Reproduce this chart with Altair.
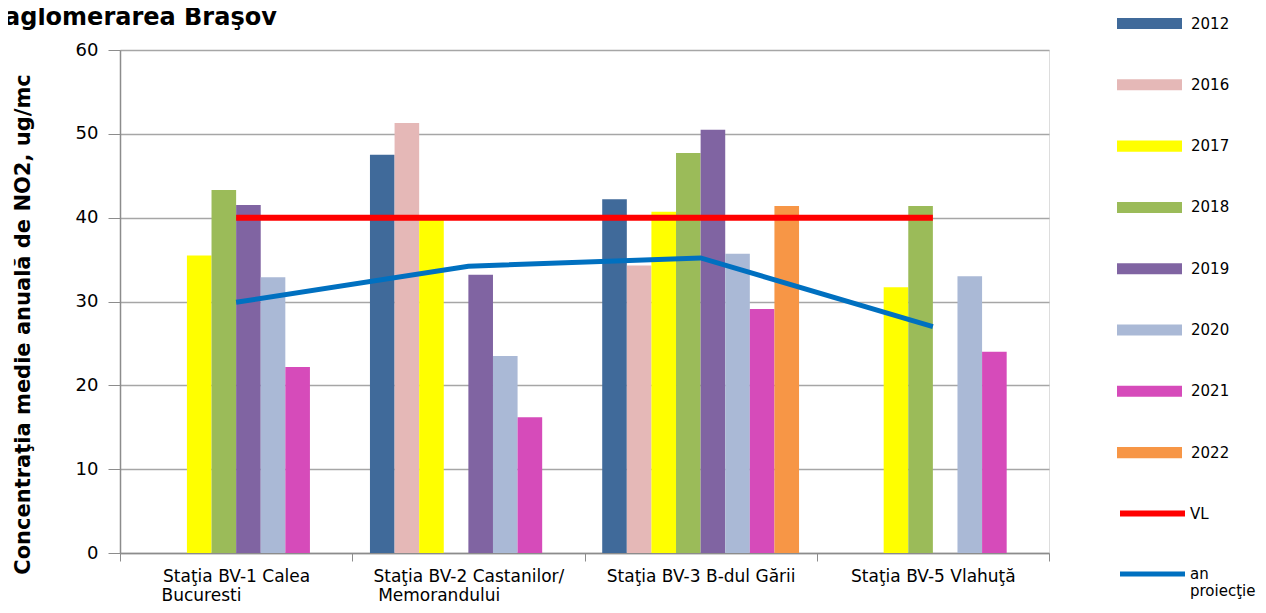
import altair as alt
import pandas as pd

# ---- data ----
chart_title = "aglomerarea Braşov"
station_line1 = ["Staţia BV-1 Calea", "Staţia BV-2 Castanilor/", "Staţia BV-3 B-dul Gării", "Staţia BV-5 Vlahuţă"]
station_line2 = ["Bucuresti", "Memorandului", "", ""]
years = ["2012", "2016", "2017", "2018", "2019", "2020", "2021", "2022"]
year_colors = ["#406A9A", "#E5B8B7", "#FFFF00", "#9BBB59", "#8064A2", "#AAB9D6", "#D64BBA", "#F79646"]

v2012 = [None, 47.5, 42.2, None]
v2016 = [None, 51.3, 34.3, None]
v2017 = [35.5, 39.8, 40.7, 31.7]
v2018 = [43.3, None, 47.7, 41.4]
v2019 = [41.5, 33.2, 50.5, None]
v2020 = [32.9, 23.5, 35.7, 33.0]
v2021 = [22.2, 16.2, 29.1, 24.0]
v2022 = [None, None, 41.4, None]

series = ["VL", "an proiecţie"]
series_colors = ["#FF0000", "#0070C0"]
vl_values = [40, 40, 40, 40]
proj_values = [29.9, 34.2, 35.2, 27.0]

# second label lines are padded with no-break spaces (closed by a zero-width space so they
# are not trimmed) so that, centred, they start under the first line as in the original
NBSP = "\u00a0"
ZWSP = "\u200b"
line2_pad = [13, 11, 0, 0]
stations = [
    (a + "\n" + b + NBSP * p + ZWSP) if b else a
    for a, b, p in zip(station_line1, station_line2, line2_pad)
]

year_values = [v2012, v2016, v2017, v2018, v2019, v2020, v2021, v2022]
bar_rows = []
for y, vals in zip(years, year_values):
    for s, v in zip(stations, vals):
        if v is not None:
            bar_rows.append({"station": s, "year": y, "value": v})
df_bars = pd.DataFrame(bar_rows)

line_rows = []
for name, vals in zip(series, [vl_values, proj_values]):
    for s, v in zip(stations, vals):
        line_rows.append({"station": s, "series": name, "value": v})
df_lines = pd.DataFrame(line_rows)

df_title = pd.DataFrame({"t": [chart_title]})

FONT = "DejaVu Sans"
GRID = "#A6A6A6"
AXC = "#8C8C8C"

x_enc = alt.X(
    "station:N", sort=stations,
    scale=alt.Scale(paddingInner=0, paddingOuter=0),
    axis=alt.Axis(
        title=None, labelAngle=0, labelFontSize=17, labelFont=FONT, labelColor="black",
        labelExpr="split(datum.label, '\\n')", labelLineHeight=19, labelLimit=0,
        tickBand="extent", tickSize=8, tickColor=AXC, domainColor=AXC, domainWidth=1.5,
        labelPadding=7, grid=False,
    ),
)

bars = alt.Chart(df_bars).mark_bar().encode(
    x=x_enc,
    xOffset=alt.XOffset("year:N", sort=years,
                        scale=alt.Scale(domain=years, paddingInner=0, paddingOuter=0.72)),
    y=alt.Y(
        "value:Q", scale=alt.Scale(domain=[0, 60]),
        axis=alt.Axis(
            values=[0, 10, 20, 30, 40, 50, 60], labelFontSize=18, labelFont=FONT, labelColor="black",
            tickSize=12, tickColor=AXC, domainColor=AXC, domainWidth=1.5, labelPadding=10,
            gridColor=GRID, gridWidth=1.5,
            title="Concentraţia medie anuală de NO2, ug/mc", titleFont=FONT, titleFontSize=21,
            titleFontWeight="bold", titleColor="black", titleAngle=270, titleX=-97, titleY=274,
            titleAlign="center", titleBaseline="middle", titleLimit=0,
        ),
    ),
    color=alt.Color(
        "year:N", scale=alt.Scale(domain=years, range=year_colors),
        legend=alt.Legend(
            title=None, orient="none", legendX=997, legendY=-59, padding=0,
            symbolType="M-1,-0.17H1V0.17H-1Z", symbolSize=4225, symbolStrokeWidth=0,
            labelFont=FONT, labelFontSize=15, labelColor="black", labelOffset=9, rowPadding=20.3,
        ),
    ),
)

lines = alt.Chart(df_lines).mark_line().encode(
    x=alt.X("station:N", sort=stations),
    y=alt.Y("value:Q"),
    color=alt.Color(
        "series:N", scale=alt.Scale(domain=series, range=series_colors),
        legend=alt.Legend(
            title=None, orient="none", legendX=997, legendY=428, padding=0,
            symbolType="stroke", symbolSize=4225, symbolStrokeWidth=6.5,
            labelFont=FONT, labelFontSize=15, labelColor="black", labelOffset=2, rowPadding=13,
            labelExpr="split(datum.label, ' ')", labelLimit=0,
        ),
    ),
    strokeWidth=alt.StrokeWidth("series:N", scale=alt.Scale(domain=series, range=[6, 5]), legend=None),
)

title_text = alt.Chart(df_title).mark_text(
    align="left", baseline="alphabetic", font=FONT, fontSize=24, fontWeight="bold", color="black",
).encode(x=alt.value(-116), y=alt.value(-25), text="t:N")

chart = alt.layer(bars, lines, title_text).resolve_scale(
    color="independent", strokeWidth="independent"
).properties(
    width=929, height=503,
    autosize="none",
    padding={"left": 112, "top": 42, "right": 209, "bottom": 52},
).configure_view(stroke=GRID, strokeWidth=1.5).configure(background="white")

chart.save("out.html", embed_options={"renderer": "svg", "actions": False})
